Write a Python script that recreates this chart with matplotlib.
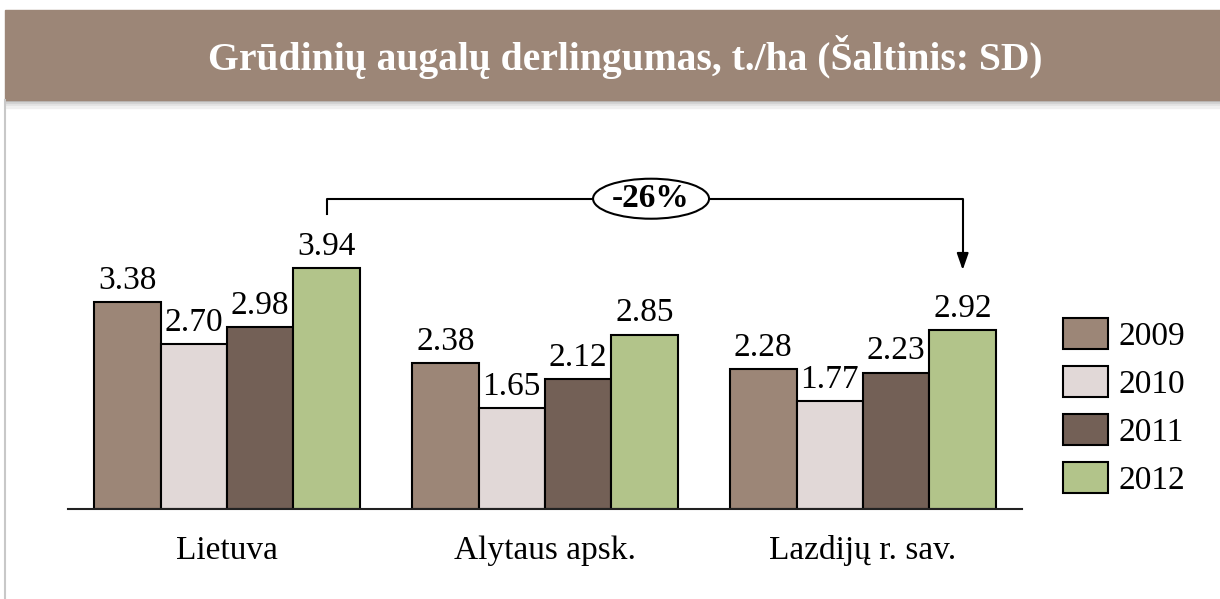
import matplotlib
matplotlib.use('Agg')
import matplotlib.pyplot as plt
from matplotlib.patches import Rectangle, Ellipse
import numpy as np

categories = ['Lietuva', 'Alytaus apsk.', 'Lazdijų r. sav.']
years = ['2009', '2010', '2011', '2012']
v2009 = [3.38, 2.38, 2.28]
v2010 = [2.70, 1.65, 1.77]
v2011 = [2.98, 2.12, 2.23]
v2012 = [3.94, 2.85, 2.92]
change_label = '-26%'

colors = ['#9c8677', '#e1d8d7', '#736056', '#b2c48a']
band = '#9c8677'
serif = ['Liberation Serif', 'DejaVu Serif']

W, H = 1220, 599
fig = plt.figure(figsize=(W / 100, H / 100), dpi=100)
fig.patch.set_facecolor('white')

# title band with soft shadow and left border
for k, c in enumerate(['#bdbdbd', '#d0d0d0', '#e2e2e2', '#f0f0f0']):
    fig.add_artist(Rectangle((5 / W, 1 - (102 + 2 * k) / H), 1, 2 / H,
                             transform=fig.transFigure, color=c, zorder=1))
fig.add_artist(Rectangle((5 / W, 1 - 100 / H), 1, 90 / H, transform=fig.transFigure,
                         color=band, zorder=2))
fig.add_artist(plt.Line2D([5 / W, 5 / W], [0, 1 - 100 / H], transform=fig.transFigure,
                          color='#c8c8c8', lw=1.5))
fig.text(625 / W, 1 - 57 / H, 'Grūdinių augalų derlingumas, t./ha (Šaltinis: SD)',
         ha='center', va='center', color='white', fontsize=28.5, fontweight='bold',
         family=serif, zorder=3)

ax = fig.add_axes([68 / W, 90 / H, 954 / W, 336.6 / H])
x = np.arange(len(categories))
bw = 0.209
series = [v2009, v2010, v2011, v2012]
handles = []
for i, vals in enumerate(series):
    pos = x + (i - 1.5) * bw
    b = ax.bar(pos, vals, bw, color=colors[i], edgecolor='black', linewidth=1.5,
               label=years[i], zorder=2)
    handles.append(b)
    for px, v in zip(pos, vals):
        ax.text(px, v + 0.1, f'{v:.2f}', ha='center', va='bottom', fontsize=24,
                family=serif)

ax.set_xlim(-0.5, 2.5)
ax.set_ylim(0, 5.5)
ax.set_yticks([])
ax.set_xticks(x)
ax.set_xticklabels(categories, fontsize=24, family=serif)
ax.tick_params(axis='x', length=0, pad=19)
for s in ['top', 'right', 'left']:
    ax.spines[s].set_visible(False)
ax.spines['bottom'].set_linewidth(1.5)
ax.spines['bottom'].set_color('#222222')
ax.patch.set_alpha(0)

# change bracket from Lietuva 2012 to Lazdiju 2012
x0 = x[0] + 1.5 * bw
x1 = x[2] + 1.5 * bw
ytop = 5.07
ax.plot([x0, x0, x1, x1], [4.82, ytop, ytop, 4.1], color='black', lw=1.5,
        clip_on=False, zorder=3)
ax.annotate('', xy=(x1, 3.86), xytext=(x1, 4.2),
            arrowprops=dict(arrowstyle='-|>,head_width=0.35,head_length=1.0',
                            color='black', lw=1.5), annotation_clip=False)
ex = (x0 + x1) / 2 + 0.02
ax.add_patch(Ellipse((ex, ytop), 116 / 318, 40 / 61.2, facecolor='white',
                     edgecolor='black', lw=1.5, clip_on=False, zorder=4))
ax.text(ex, ytop, change_label, ha='center', va='center', fontsize=24,
        fontweight='bold', family=serif, zorder=5)

leg = fig.legend(handles=handles, labels=years, loc='center left',
                 bbox_to_anchor=(1033 / W, 1 - 407 / H), frameon=False,
                 prop={'family': serif, 'size': 24}, handlelength=1.35,
                 handleheight=1.05, labelspacing=0.42, handletextpad=0.3)

fig.savefig('out.png', dpi=100)
